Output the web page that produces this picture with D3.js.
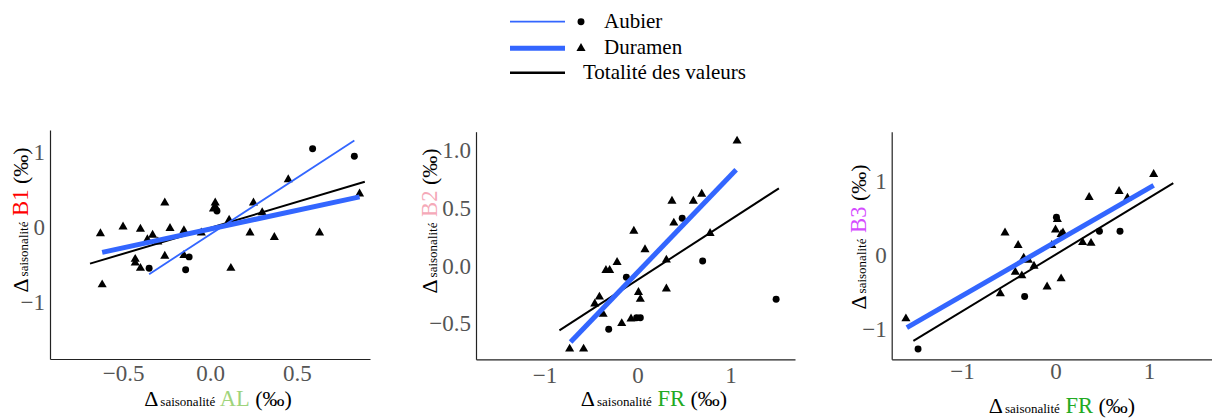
<!DOCTYPE html>
<html>
<head>
<meta charset="utf-8">
<script src="https://cdn.jsdelivr.net/npm/d3@7"></script>
<style>
  body { margin: 0; background: #fff; }
</style>
</head>
<body>
<svg id="chart" width="1212" height="419"></svg>
<script>
const legendLabels = ['Aubier', 'Duramen', 'Totalité des valeurs'];

// B1 ~ AL
const b1AubierX = [-0.35, -0.14, -0.12, 0.04, 0.59, 0.83];
const b1AubierY = [-0.55, -0.57, -0.40, 0.21, 1.04, 0.94];
const b1DuramenX = [-0.63, -0.62, -0.50, -0.40, -0.43, -0.43, -0.40, -0.33, -0.36, -0.30, -0.26, -0.26, -0.23, -0.15,
    -0.15, -0.05, 0.03, 0.03, 0.02, 0.11, 0.12, 0.23, 0.25, 0.30, 0.37, 0.45, 0.63, 0.86];
const b1DuramenY = [-0.09, -0.77, 0.00, -0.03, -0.43, -0.48, -0.55, -0.11, -0.17, -0.20, 0.32, -0.39, -0.02, -0.05,
    -0.38, -0.08, 0.32, 0.27, 0.24, 0.09, -0.55, -0.08, 0.32, 0.19, -0.14, 0.63, -0.08, 0.44];
// fitted lines: [x0, y0, x1, y1]
const b1AubierFit = [-0.35, -0.63, 0.83, 1.15];
const b1DuramenFit = [-0.62, -0.34, 0.86, 0.40];
const b1TotalFit = [-0.69, -0.49, 0.89, 0.60];
const b1XTicks = [-0.5, 0, 0.5];
const b1YTicks = [-1, 0, 1];

// B2 ~ FR
const b2AubierX = [0.48, 0.70, -0.12, 1.49, -0.01, 0.03, -0.31];
const b2AubierY = [0.41, 0.04, -0.10, -0.29, -0.45, -0.45, -0.55];
const b2DuramenX = [1.07, 0.37, 0.60, 0.69, 0.39, -0.04, 0.78, 0.08, 0.31, -0.22, -0.34, -0.30, 0.31, 0.01, 0.03,
    -0.41, -0.46, -0.37, -0.17, -0.07, -0.73, -0.58];
const b2DuramenY = [1.08, 0.56, 0.56, 0.62, 0.37, 0.30, 0.28, 0.14, 0.05, 0.03, -0.04, -0.04, -0.20, -0.23, -0.29,
    -0.27, -0.33, -0.42, -0.50, -0.46, -0.72, -0.72];
const b2AubierFit = null;
const b2DuramenFit = [-0.72, -0.66, 1.06, 0.83];
const b2TotalFit = [-0.84, -0.56, 1.52, 0.67];
const b2XTicks = [-1, 0, 1];
const b2YTicks = [-0.5, 0, 0.5, 1];

// B3 ~ FR
const b3AubierX = [0.01, 0.47, 0.69, -0.33, -1.47];
const b3AubierY = [0.51, 0.32, 0.32, -0.56, -1.27];
const b3DuramenX = [1.05, 0.68, 0.77, 0.36, 0.02, 0.00, 0.08, 0.06, -0.54, -0.40, -0.04, 0.29, 0.38, -0.34, -0.29,
    -0.23, -0.43, -0.36, 0.06, -0.09, -0.59, -1.60];
const b3DuramenY = [1.09, 0.86, 0.77, 0.78, 0.48, 0.34, 0.30, 0.28, 0.30, 0.13, 0.13, 0.17, 0.16, -0.04, -0.07,
    -0.15, -0.23, -0.28, -0.32, -0.43, -0.52, -0.86];
const b3AubierFit = null;
const b3DuramenFit = [-1.59, -0.98, 1.05, 0.94];
const b3TotalFit = [-1.52, -1.16, 1.26, 0.97];
const b3XTicks = [-1, 0, 1];
const b3YTicks = [-1, 0, 1];

const blue = '#3366ff';
const tickColor = '#555';
const fontFam = '"Liberation Serif"';
const svg = d3.select('#chart');

const panels = [
    {
        yName: 'B1', yColor: '#ff0000', xName: 'AL', xColor: '#9fd47c',
        aX: b1AubierX, aY: b1AubierY, dX: b1DuramenX, dY: b1DuramenY,
        fits: [b1TotalFit, b1DuramenFit, b1AubierFit],
        xTicks: b1XTicks, yTicks: b1YTicks, xFmt: '.1f', yFmt: 'd',
        box: [50, 130, 370, 359], xDom: [-0.92, 0.92], yDom: [-1.76, 1.29],
        xPad: 6, xTitle: [218, 406], yTitle: [28, 220]
    },
    {
        yName: 'B2', yColor: '#f5a9b8', xName: 'FR', xColor: '#22aa22',
        aX: b2AubierX, aY: b2AubierY, dX: b2DuramenX, dY: b2DuramenY,
        fits: [b2TotalFit, b2DuramenFit, b2AubierFit],
        xTicks: b2XTicks, yTicks: b2YTicks, xFmt: 'd', yFmt: '.1f',
        box: [476, 131.7, 795, 359.3], xDom: [-1.737, 1.693], yDom: [-0.81, 1.16],
        xPad: 7, xTitle: [654, 406], yTitle: [437, 221]
    },
    {
        yName: 'B3', yColor: '#d54cff', xName: 'FR', xColor: '#22aa22',
        aX: b3AubierX, aY: b3AubierY, dX: b3DuramenX, dY: b3DuramenY,
        fits: [b3TotalFit, b3DuramenFit, b3AubierFit],
        xTicks: b3XTicks, yTicks: b3YTicks, xFmt: 'd', yFmt: 'd',
        box: [891.7, 131.7, 1212, 359.3], xDom: [-1.752, 1.674], yDom: [-1.409, 1.666],
        xPad: 3, xTitle: [1062, 413], yTitle: [866, 237]
    }
];

const fitStyle = [
    { color: '#000', width: 2 },
    { color: blue, width: 5 },
    { color: blue, width: 1.8 }
];

const circle = d3.symbol(d3.symbolCircle, 38);
const triangle = d3.symbol(d3.symbolTriangle, 36);

const styleAxis = (g) => {
    g.attr('font-family', null).attr('font-size', null);
    g.select('.domain').attr('stroke', '#222').attr('stroke-width', 1.2);
    g.selectAll('text')
        .attr('fill', tickColor)
        .style('font-family', fontFam)
        .style('font-size', '23px');
};

const addTitle = (text, name, color) => {
    text.style('font-family', fontFam);
    text.append('tspan').text('Δ').style('font-size', '22px');
    text.append('tspan').text('saisonalité').style('font-size', '13px').attr('dx', 2);
    text.append('tspan').text(' ' + name).style('font-size', '22.5px').attr('fill', color);
    text.append('tspan').text(' (‰)').style('font-size', '22px');
};

const drawPanel = (p) => {
    const [x0, y0, x1, y1] = p.box;
    const x = d3.scaleLinear().domain(p.xDom).range([x0, x1]);
    const y = d3.scaleLinear().domain(p.yDom).range([y1, y0]);
    const g = svg.append('g');

    g.append('g')
        .attr('transform', `translate(0,${y1})`)
        .call(d3.axisBottom(x).tickValues(p.xTicks).tickFormat(d3.format(p.xFmt))
            .tickSize(0).tickPadding(p.xPad))
        .call(styleAxis);

    g.append('g')
        .attr('transform', `translate(${x0},0)`)
        .call(d3.axisLeft(y).tickValues(p.yTicks).tickFormat(d3.format(p.yFmt))
            .tickSize(0).tickPadding(5))
        .call(styleAxis);

    g.append('g').selectAll('path')
        .data(d3.zip(p.dX, p.dY))
        .join('path')
        .attr('d', triangle)
        .attr('transform', d => `translate(${x(d[0])},${y(d[1])})`)
        .attr('fill', '#000');

    g.append('g').selectAll('path')
        .data(d3.zip(p.aX, p.aY))
        .join('path')
        .attr('d', circle)
        .attr('transform', d => `translate(${x(d[0])},${y(d[1])})`)
        .attr('fill', '#000');

    p.fits.forEach((f, i) => {
        if (!f) return;
        g.append('line')
            .attr('x1', x(f[0])).attr('y1', y(f[1]))
            .attr('x2', x(f[2])).attr('y2', y(f[3]))
            .attr('stroke', fitStyle[i].color)
            .attr('stroke-width', fitStyle[i].width);
    });

    const xt = g.append('text')
        .attr('x', p.xTitle[0]).attr('y', p.xTitle[1])
        .attr('text-anchor', 'middle');
    addTitle(xt, p.xName, p.xColor);

    const yt = g.append('text')
        .attr('transform', `translate(${p.yTitle[0]},${p.yTitle[1]}) rotate(-90)`)
        .attr('text-anchor', 'middle');
    addTitle(yt, p.yName, p.yColor);
};

panels.forEach(drawPanel);

// legend
const legendRows = [
    { y: 21.7, width: 1.8, color: blue, symbol: circle, textX: 604 },
    { y: 48.3, width: 5, color: blue, symbol: triangle, textX: 604 },
    { y: 72.7, width: 2.5, color: '#000', symbol: null, textX: 583 }
];
const legend = svg.append('g');
legendRows.forEach((r, i) => {
    legend.append('line')
        .attr('x1', 510).attr('x2', 565)
        .attr('y1', r.y).attr('y2', r.y)
        .attr('stroke', r.color).attr('stroke-width', r.width);
    if (r.symbol) {
        legend.append('path')
            .attr('d', r.symbol)
            .attr('transform', `translate(581,${r.y})`)
            .attr('fill', '#000');
    }
    legend.append('text')
        .attr('x', r.textX).attr('y', r.y + 6)
        .style('font-family', fontFam)
        .style('font-size', '21px')
        .text(legendLabels[i]);
});
</script>
</body>
</html>
